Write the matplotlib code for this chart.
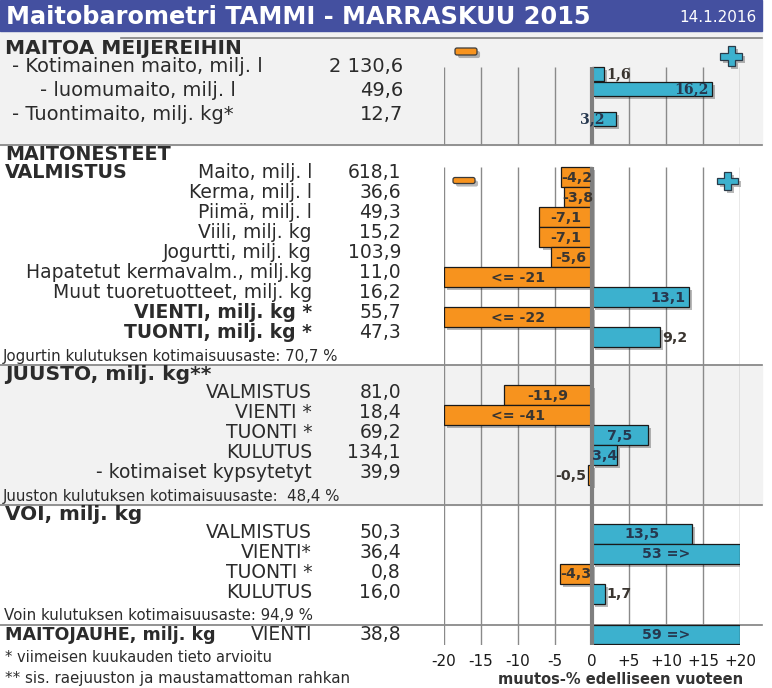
import numpy as np
import matplotlib
matplotlib.use("Agg")
import matplotlib.pyplot as plt
from matplotlib.patches import Rectangle, FancyBboxPatch, Polygon
import matplotlib.patheffects as pe

# ---------------- data ----------------
title = "Maitobarometri TAMMI - MARRASKUU 2015"
date_text = "14.1.2016"

s1_head = "MAITOA MEIJEREIHIN"
s1_labels = ["- Kotimainen maito, milj. l", "- luomumaito, milj. l", "- Tuontimaito, milj. kg*"]
s1_values = [2130.6, 49.6, 12.7]
s1_change = [1.6, 16.2, 3.2]

s2_head = ["MAITONESTEET", "VALMISTUS"]
s2_labels = ["Maito, milj. l", "Kerma, milj. l", "Piimä, milj. l", "Viili, milj. kg",
             "Jogurtti, milj. kg", "Hapatetut kermavalm., milj.kg",
             "Muut tuoretuotteet, milj. kg", "VIENTI, milj. kg *", "TUONTI, milj. kg *"]
s2_values = [618.1, 36.6, 49.3, 15.2, 103.9, 11.0, 16.2, 55.7, 47.3]
s2_change = [-4.2, -3.8, -7.1, -7.1, -5.6, -21, 13.1, -22, 9.2]
s2_note = "Jogurtin kulutuksen kotimaisuusaste: 70,7 %"

s3_head = "JUUSTO, milj. kg**"
s3_labels = ["VALMISTUS", "VIENTI *", "TUONTI *", "KULUTUS", "- kotimaiset kypsytetyt"]
s3_values = [81.0, 18.4, 69.2, 134.1, 39.9]
s3_change = [-11.9, -41, 7.5, 3.4, -0.5]
s3_note = "Juuston kulutuksen kotimaisuusaste:  48,4 %"

s4_head = "VOI, milj. kg"
s4_labels = ["VALMISTUS", "VIENTI*", "TUONTI *", "KULUTUS"]
s4_values = [50.3, 36.4, 0.8, 16.0]
s4_change = [13.5, 53, -4.3, 1.7]
s4_note = "Voin kulutuksen kotimaisuusaste: 94,9 %"

s5_head = "MAITOJAUHE, milj. kg"
s5_labels = ["VIENTI"]
s5_values = [38.8]
s5_change = [59]

footnotes = ["* viimeisen kuukauden tieto arvioitu",
             "** sis. raejuuston ja maustamattoman rahkan"]

x_ticks = [-20, -15, -10, -5, 0, 5, 10, 15, 20]
x_tick_labels = ["-20", "-15", "-10", "-5", "0", "+5", "+10", "+15", "+20"]
x_label = "muutos-% edelliseen vuoteen"
LIM = 20

# ---------------- style / layout ----------------
W, H = 772, 688
BLUE_TITLE = "#4450a0"
POS = "#3cb1ce"
NEG = "#f7931e"
TXT = "#2b2b2b"
LINE = "#808080"
BGGRAY = "#f2f2f2"
LABEL_FS = 13.5
S1_FS = 14
NOTE_FS = 10.8
BARLAB_FS = 10.2
LABEL_X = 312
VALUE_X = 401

fig = plt.figure(figsize=(W / 100, H / 100), dpi=100)
bg = fig.add_axes([0, 0, 1, 1])
bg.set_xlim(0, W)
bg.set_ylim(H, 0)
bg.axis("off")

# bar axes: x in percent change, y in pixel rows
ax = fig.add_axes([444 / W, (H - 645) / H, 296 / W, 645 / H])
ax.set_xlim(-LIM, LIM)
ax.set_ylim(645, 0)
ax.patch.set_alpha(0)
for sp in ax.spines.values():
    sp.set_visible(False)
ax.set_yticks([])
ax.set_xticks(x_ticks, x_tick_labels)
ax.tick_params(axis="x", length=0, pad=6.5, labelsize=11, labelcolor="#1a1a1a")

# ---- backgrounds & separators ----
bg.add_patch(Rectangle((0, 0), 762, 31, color=BLUE_TITLE, zorder=1))
bg.add_patch(Rectangle((0, 31), 762, 114, color=BGGRAY, zorder=0))
bg.add_patch(Rectangle((0, 365), 762, 140, color=BGGRAY, zorder=0))
bg.plot([121, 762], [38, 38], color=LINE, lw=1.2, zorder=2)
for yy in [145, 365, 505, 625]:
    bg.plot([0, 762], [yy, yy], color=LINE, lw=1.2, zorder=2)

bg.text(6, 17, title, color="white", fontsize=17.3, fontweight="bold", va="center", ha="left")
bg.text(757, 18, date_text, color="white", fontsize=11, va="center", ha="right")

# ---- grid ----
grid_ticks = [t for t in x_ticks if t != 0]
for (y0, y1) in [(67, 145), (167, 645)]:
    ax.vlines(grid_ticks, y0, y1, color="#8a8a8a", lw=1.0, zorder=1)
    ax.vlines(0, y0, y1, color="#7f7f7f", lw=3, zorder=5)

# ---- helpers ----
def fmt_num(v):
    return f"{v:,.1f}".replace(",", " ").replace(".", ",")

def fmt_change(v):
    if v < -LIM:
        return f"<= {v:.0f}"
    if v > LIM:
        return f"{v:.0f} =>"
    return f"{v:.1f}".replace(".", ",")

shadow = [pe.SimplePatchShadow(offset=(2.2, -2.2), shadow_rgbFace="#000000", alpha=0.28), pe.Normal()]

def draw_bars(ycent, changes, height, modes, serif=False):
    vals = np.clip(np.array(changes, dtype=float), -LIM, LIM)
    colors = [POS if v >= 0 else NEG for v in changes]
    bars = ax.barh(ycent, vals, height=height, color=colors, edgecolor="#1a1a1a",
                   lw=0.9, zorder=3)
    for b in bars:
        b.set_path_effects(shadow)
    fam = "DejaVu Serif" if serif else "DejaVu Sans"
    for y, raw, v, m in zip(ycent, changes, vals, modes):
        sgn = 1 if v >= 0 else -1
        if m == "c":
            x, ha = v / 2, "center"
        elif m == "in":
            x, ha = v - sgn * 0.5, ("right" if sgn > 0 else "left")
        elif m == "out":
            x, ha = v + sgn * 0.3, ("left" if sgn > 0 else "right")
        else:
            x, ha = 0, "center"
        col = "#26384f" if (raw >= 0 and m != "out") else "#3a3530"
        ax.text(x, y + 0.5, fmt_change(raw), ha=ha, va="center", fontsize=BARLAB_FS,
                fontweight="bold", family=fam, color=col, zorder=6)

def draw_rows(text_y, labels, values, bold=None, fs=LABEL_FS):
    for i, (y, lab, val) in enumerate(zip(text_y, labels, values)):
        w = "bold" if (bold is not None and bold[i]) else "normal"
        bg.text(LABEL_X, y, lab, ha="right", va="center", fontsize=fs, fontweight=w, color=TXT)
        bg.text(VALUE_X, y, fmt_num(val), ha="right", va="center", fontsize=fs, color=TXT)

def minus_icon(cx, cy, w=22, h=7):
    p = FancyBboxPatch((cx - w / 2, cy - h / 2), w, h, boxstyle="round,pad=0,rounding_size=2",
                       fc=NEG, ec="#3a3a3a", lw=0.9, zorder=4)
    p.set_path_effects(shadow)
    bg.add_patch(p)

def plus_icon(cx, cy, w=22, h=20, t=7):
    a, b, c = w / 2, h / 2, t / 2
    pts = [(cx - c, cy - b), (cx + c, cy - b), (cx + c, cy - c), (cx + a, cy - c),
           (cx + a, cy + c), (cx + c, cy + c), (cx + c, cy + b), (cx - c, cy + b),
           (cx - c, cy + c), (cx - a, cy + c), (cx - a, cy - c), (cx - c, cy - c)]
    p = Polygon(pts, closed=True, fc=POS, ec="#2a3a48", lw=0.9, zorder=4)
    p.set_path_effects(shadow)
    bg.add_patch(p)

# ---- section 1 ----
bg.text(5, 48, s1_head, fontsize=14.5, fontweight="bold", va="center", color=TXT)
s1_text_y = [66 + 24 * k for k in range(3)]
s1_text_x = [12, 40, 12]
for x, y, lab, val in zip(s1_text_x, s1_text_y, s1_labels, s1_values):
    bg.text(x, y, lab, ha="left", va="center", fontsize=S1_FS, color=TXT)
    bg.text(403, y, fmt_num(val), ha="right", va="center", fontsize=S1_FS, color=TXT)
s1_slots = [0, 1, 3]
draw_bars([74 + 15 * k for k in s1_slots], s1_change, 14.5, ["out", "in", "base"], serif=True)
minus_icon(466, 51.5)
plus_icon(731, 56)

# ---- section 2 ----
bg.text(5, 155, s2_head[0], fontsize=13.8, fontweight="bold", va="center", color=TXT)
bg.text(5, 173, s2_head[1], fontsize=13.8, fontweight="bold", va="center", color=TXT)
s2_bar_y = [177 + 20 * k for k in range(len(s2_change))]
draw_rows([y - 4 for y in s2_bar_y], s2_labels, s2_values, bold=[False] * 7 + [True, True])
draw_bars(s2_bar_y, s2_change, 20, ["c", "c", "c", "c", "c", "c", "in", "c", "out"])
bg.text(3, 356, s2_note, fontsize=NOTE_FS, va="center", color=TXT)
minus_icon(464, 180.5, h=6)
plus_icon(727.5, 181, w=21, h=18, t=6.5)

# ---- section 3 ----
bg.text(5, 375, s3_head, fontsize=14.6, fontweight="bold", va="center", color=TXT)
s3_bar_y = [395 + 20 * k for k in range(len(s3_change))]
draw_rows([y - 2 for y in s3_bar_y], s3_labels, s3_values)
draw_bars(s3_bar_y, s3_change, 20, ["c", "c", "c", "c", "out"])
bg.text(3, 496, s3_note, fontsize=NOTE_FS, va="center", color=TXT)

# ---- section 4 ----
bg.text(5, 515, s4_head, fontsize=14.4, fontweight="bold", va="center", color=TXT)
s4_bar_y = [534 + 20 * k for k in range(len(s4_change))]
draw_rows([y - 1 for y in s4_bar_y], s4_labels, s4_values)
draw_bars(s4_bar_y, s4_change, 20, ["c", "c", "c", "out"])
bg.text(4, 615, s4_note, fontsize=NOTE_FS, va="center", color=TXT)

# ---- section 5 ----
bg.text(5, 635, s5_head, fontsize=12.6, fontweight="bold", va="center", color=TXT)
s5_bar_y = [634.5]
draw_rows([635], s5_labels, s5_values)
draw_bars(s5_bar_y, s5_change, 19, ["c"])

# ---- footnotes & axis label ----
bg.text(5, 657, footnotes[0], fontsize=10.5, va="center", color=TXT)
bg.text(5, 679, footnotes[1], fontsize=NOTE_FS, va="center", color=TXT)
bg.text(743, 679, x_label, ha="right", va="center", fontsize=10.5, fontweight="bold", color="#333333")

fig.savefig("out.png", dpi=100)
